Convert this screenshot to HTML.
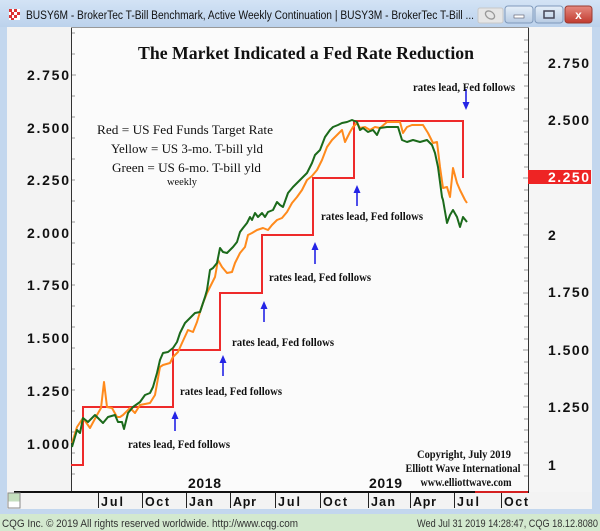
<!DOCTYPE html>
<html><head><meta charset="utf-8">
<style>
html,body{margin:0;padding:0;background:#c3d7ee;}
svg{display:block;}
.ax{font-family:"Liberation Sans",sans-serif;font-weight:bold;font-size:14px;fill:#111;}
.tm{font-family:"Liberation Sans",sans-serif;font-weight:bold;font-size:12.5px;fill:#111;}
.rl{font-family:"Liberation Serif",serif;font-weight:bold;font-size:11.5px;fill:#111;}
.lg{font-family:"Liberation Serif",serif;font-size:13px;fill:#111;}
</style></head>
<body>
<svg width="600" height="531" viewBox="0 0 600 531" xmlns="http://www.w3.org/2000/svg">
<defs>
<linearGradient id="tb" x1="0" y1="0" x2="0" y2="1">
<stop offset="0" stop-color="#d3e3f5"/><stop offset="1" stop-color="#bcd2ec"/></linearGradient>
<linearGradient id="bt" x1="0" y1="0" x2="0" y2="1">
<stop offset="0" stop-color="#e6eff9"/><stop offset="1" stop-color="#b7cbe3"/></linearGradient>
<linearGradient id="cl" x1="0" y1="0" x2="0" y2="1">
<stop offset="0" stop-color="#e58a80"/><stop offset="1" stop-color="#c13b2f"/></linearGradient>
</defs>
<!-- window frame -->
<rect x="0" y="0" width="600" height="531" fill="#c3d7ee"/>
<rect x="0" y="0" width="600" height="27" fill="url(#tb)"/>
<!-- title icon -->
<rect x="9" y="9" width="11" height="11" fill="#fff"/>
<rect x="9" y="9" width="3" height="3" fill="#d33"/><rect x="14" y="9" width="3" height="3" fill="#d33"/>
<rect x="11" y="12" width="3" height="3" fill="#d33"/><rect x="17" y="12" width="3" height="3" fill="#d33"/>
<rect x="9" y="15" width="3" height="3" fill="#d33"/><rect x="14" y="15" width="3" height="3" fill="#d33"/>
<rect x="11" y="18" width="3" height="2" fill="#d33"/>
<text x="26" y="19" font-family="Liberation Sans, sans-serif" font-size="11.5" fill="#111" textLength="448" lengthAdjust="spacingAndGlyphs">BUSY6M - BrokerTec T-Bill Benchmark, Active Weekly Continuation  |  BUSY3M - BrokerTec T-Bill ...</text>
<!-- buttons -->
<rect x="478" y="8" width="25" height="15" rx="2" fill="#e6e6e6" stroke="#c8c8c8"/>
<ellipse cx="490" cy="15" rx="5" ry="3.5" fill="none" stroke="#999" stroke-width="1.3" transform="rotate(35 490 15)"/>
<rect x="505" y="6" width="28" height="17" rx="3" fill="url(#bt)" stroke="#7f99bb"/>
<rect x="514" y="15" width="10" height="3" fill="#fff" stroke="#556" stroke-width="0.6"/>
<rect x="535" y="6" width="28" height="17" rx="3" fill="url(#bt)" stroke="#7f99bb"/>
<rect x="544" y="11" width="10" height="7" fill="none" stroke="#445" stroke-width="1.5"/>
<rect x="565" y="6" width="27" height="17" rx="3" fill="url(#cl)" stroke="#9a3a30"/>
<text x="578.5" y="19" text-anchor="middle" font-family="Liberation Sans, sans-serif" font-weight="bold" font-size="12" fill="#fff">x</text>

<!-- panels -->
<rect x="7" y="27" width="64" height="465" fill="#f3f3f3"/>
<rect x="71" y="27" width="458" height="465" fill="#fbfbfb"/>
<rect x="529" y="27" width="63" height="465" fill="#f5f5f5"/>
<line x1="71.5" y1="27" x2="71.5" y2="492" stroke="#333" stroke-width="1"/>
<line x1="528.5" y1="27" x2="528.5" y2="492" stroke="#333" stroke-width="1"/>
<line x1="71" y1="27.5" x2="529" y2="27.5" stroke="#999" stroke-width="1"/>

<!-- left ticks -->
<g stroke="#999" stroke-width="1">
<line x1="72" y1="33" x2="75" y2="33"/><line x1="72" y1="54" x2="75" y2="54"/><line x1="72" y1="75" x2="76" y2="75"/>
<line x1="72" y1="96" x2="75" y2="96"/><line x1="72" y1="117" x2="75" y2="117"/><line x1="72" y1="138" x2="75" y2="138"/>
<line x1="72" y1="159" x2="75" y2="159"/><line x1="72" y1="180" x2="75" y2="180"/><line x1="72" y1="201" x2="75" y2="201"/>
<line x1="72" y1="222" x2="75" y2="222"/><line x1="72" y1="243" x2="75" y2="243"/><line x1="72" y1="264" x2="75" y2="264"/>
<line x1="72" y1="285" x2="75" y2="285"/><line x1="72" y1="306" x2="75" y2="306"/><line x1="72" y1="327" x2="75" y2="327"/>
<line x1="72" y1="348" x2="75" y2="348"/><line x1="72" y1="369" x2="75" y2="369"/><line x1="72" y1="390" x2="75" y2="390"/>
<line x1="72" y1="411" x2="75" y2="411"/><line x1="72" y1="432" x2="75" y2="432"/><line x1="72" y1="453" x2="75" y2="453"/>
<line x1="72" y1="474" x2="75" y2="474"/>
</g>
<!-- right ticks -->
<g stroke="#999" stroke-width="1">
<line x1="524" y1="40" x2="528" y2="40"/><line x1="524" y1="52" x2="528" y2="52"/><line x1="523" y1="63" x2="528" y2="63"/>
<line x1="524" y1="75" x2="528" y2="75"/><line x1="524" y1="86" x2="528" y2="86"/><line x1="524" y1="98" x2="528" y2="98"/>
<line x1="524" y1="109" x2="528" y2="109"/><line x1="523" y1="121" x2="528" y2="121"/><line x1="524" y1="132" x2="528" y2="132"/>
<line x1="524" y1="144" x2="528" y2="144"/><line x1="524" y1="155" x2="528" y2="155"/><line x1="524" y1="167" x2="528" y2="167"/>
<line x1="523" y1="178" x2="528" y2="178"/><line x1="524" y1="190" x2="528" y2="190"/><line x1="524" y1="201" x2="528" y2="201"/>
<line x1="524" y1="213" x2="528" y2="213"/><line x1="524" y1="224" x2="528" y2="224"/><line x1="523" y1="235" x2="528" y2="235"/>
<line x1="524" y1="247" x2="528" y2="247"/><line x1="524" y1="258" x2="528" y2="258"/><line x1="524" y1="270" x2="528" y2="270"/>
<line x1="524" y1="281" x2="528" y2="281"/><line x1="523" y1="293" x2="528" y2="293"/><line x1="524" y1="304" x2="528" y2="304"/>
<line x1="524" y1="316" x2="528" y2="316"/><line x1="524" y1="327" x2="528" y2="327"/><line x1="524" y1="339" x2="528" y2="339"/>
<line x1="523" y1="350" x2="528" y2="350"/><line x1="524" y1="362" x2="528" y2="362"/><line x1="524" y1="373" x2="528" y2="373"/>
<line x1="524" y1="384" x2="528" y2="384"/><line x1="524" y1="396" x2="528" y2="396"/><line x1="523" y1="407" x2="528" y2="407"/>
<line x1="524" y1="419" x2="528" y2="419"/><line x1="524" y1="430" x2="528" y2="430"/><line x1="524" y1="442" x2="528" y2="442"/>
<line x1="524" y1="453" x2="528" y2="453"/><line x1="523" y1="465" x2="528" y2="465"/><line x1="524" y1="476" x2="528" y2="476"/>
</g>

<!-- left axis labels -->
<g class="ax">
<text x="27" y="80" textLength="42" lengthAdjust="spacing">2.750</text>
<text x="27" y="133" textLength="42" lengthAdjust="spacing">2.500</text>
<text x="27" y="185" textLength="42" lengthAdjust="spacing">2.250</text>
<text x="27" y="238" textLength="42" lengthAdjust="spacing">2.000</text>
<text x="27" y="290" textLength="42" lengthAdjust="spacing">1.750</text>
<text x="27" y="343" textLength="42" lengthAdjust="spacing">1.500</text>
<text x="27" y="396" textLength="42" lengthAdjust="spacing">1.250</text>
<text x="27" y="449" textLength="42" lengthAdjust="spacing">1.000</text>
</g>
<!-- right axis labels -->
<rect x="528" y="170" width="63" height="14" fill="#ee2424"/>
<g class="ax">
<text x="548" y="68" textLength="41" lengthAdjust="spacing">2.750</text>
<text x="548" y="125" textLength="41" lengthAdjust="spacing">2.500</text>
<text x="548" y="182" textLength="41" lengthAdjust="spacing" fill="#fff" style="fill:#fff">2.250</text>
<text x="548" y="240">2</text>
<text x="548" y="297" textLength="41" lengthAdjust="spacing">1.750</text>
<text x="548" y="355" textLength="41" lengthAdjust="spacing">1.500</text>
<text x="548" y="412" textLength="41" lengthAdjust="spacing">1.250</text>
<text x="548" y="470">1</text>
</g>

<!-- title -->
<text x="138" y="59" font-family="Liberation Serif, serif" font-weight="bold" font-size="17.5" fill="#111" textLength="336" lengthAdjust="spacingAndGlyphs">The Market Indicated a Fed Rate Reduction</text>

<!-- legend -->
<text class="lg" x="97" y="134" textLength="176" lengthAdjust="spacingAndGlyphs">Red = US Fed Funds Target Rate</text>
<text class="lg" x="111" y="153" textLength="152" lengthAdjust="spacingAndGlyphs">Yellow = US 3-mo. T-bill yld</text>
<text class="lg" x="112" y="172" textLength="149" lengthAdjust="spacingAndGlyphs">Green = US 6-mo. T-bill yld</text>
<text x="167" y="185" font-family="Liberation Serif, serif" font-size="10" fill="#111" textLength="30" lengthAdjust="spacingAndGlyphs">weekly</text>

<!-- series -->
<polyline fill="none" stroke="#ee2a2a" stroke-width="2" points="71,465 83,465 83,407 173,407 173,350 220,350 220,293 262,293 262,235 313,235 313,178 354,178 354,121 463,121 463,178"/>
<polyline fill="none" stroke="#ff8a1c" stroke-width="2" stroke-linejoin="round" points="72,443 77,427 83,418 90,428 97,415 101,408 104,382 107,407 112,408 117,417 120,417 123,415 130,408 135,413 140,405 150,403 155,395 160,367 163,365 170,363 173,357 178,352 182,343 188,330 193,332 197,322 200,312 203,303 207,293 212,283 215,277 218,260 222,267 227,273 232,272 235,263 240,253 245,247 248,235 252,233 257,230 263,228 268,230 272,225 277,220 282,218 287,212 292,203 297,197 302,190 307,180 312,176 317,170 322,160 327,147 332,140 337,135 342,130 345,142 350,132 353,127 357,123 360,128 365,127 370,130 375,127 380,128 387,122 393,122 400,122 403,133 407,127 412,125 417,125 423,125 428,133 433,143 437,142 440,167 443,188 447,187 450,197 453,168 457,183 460,190 465,200 467,203"/>
<polyline fill="none" stroke="#1b6a1b" stroke-width="2" stroke-linejoin="round" points="72,447 77,430 80,433 83,418 88,422 95,415 103,423 108,417 115,415 118,422 122,422 124,429 128,413 133,407 140,402 145,395 150,393 153,387 157,373 160,360 163,353 168,352 173,348 177,342 180,333 185,323 190,318 195,313 200,312 205,297 207,290 210,270 213,268 217,263 220,248 223,252 227,253 230,250 233,247 237,242 240,232 243,228 247,223 250,217 252,220 255,213 258,217 262,213 265,217 268,212 273,210 277,202 280,205 283,207 288,193 293,187 300,180 307,173 312,163 315,155 320,150 325,137 330,130 333,127 338,125 342,123 347,122 352,120 357,122 360,130 363,128 368,132 373,130 377,135 380,128 387,127 393,127 398,127 402,140 407,142 413,140 420,142 427,140 432,145 435,153 438,167 442,197 443,200 447,223 450,215 453,210 457,217 460,227 463,217 467,222"/>

<!-- arrows -->
<g stroke="#2424e6" stroke-width="1.6" fill="#2424e6">
<line x1="175" y1="418" x2="175" y2="431"/><polygon points="171.5,419 178.5,419 175,411" stroke="none"/>
<line x1="223" y1="362" x2="223" y2="376"/><polygon points="219.5,363 226.5,363 223,355" stroke="none"/>
<line x1="264" y1="308" x2="264" y2="322"/><polygon points="260.5,309 267.5,309 264,301" stroke="none"/>
<line x1="315" y1="249" x2="315" y2="264"/><polygon points="311.5,250 318.5,250 315,242" stroke="none"/>
<line x1="357" y1="192" x2="357" y2="206"/><polygon points="353.5,193 360.5,193 357,185" stroke="none"/>
<line x1="466" y1="89" x2="466" y2="103"/><polygon points="462.5,102 469.5,102 466,110" stroke="none"/>
</g>

<!-- annotations -->
<g class="rl">
<text x="128" y="448" textLength="102" lengthAdjust="spacingAndGlyphs">rates lead, Fed follows</text>
<text x="180" y="395" textLength="102" lengthAdjust="spacingAndGlyphs">rates lead, Fed follows</text>
<text x="232" y="346" textLength="102" lengthAdjust="spacingAndGlyphs">rates lead, Fed follows</text>
<text x="269" y="281" textLength="102" lengthAdjust="spacingAndGlyphs">rates lead, Fed follows</text>
<text x="321" y="220" textLength="102" lengthAdjust="spacingAndGlyphs">rates lead, Fed follows</text>
<text x="413" y="91" textLength="102" lengthAdjust="spacingAndGlyphs">rates lead, Fed follows</text>
</g>
<g class="rl" text-anchor="middle">
<text x="464" y="458" textLength="94" lengthAdjust="spacingAndGlyphs">Copyright, July 2019</text>
<text x="463" y="472" textLength="115" lengthAdjust="spacingAndGlyphs">Elliott Wave International</text>
<text x="466" y="486" textLength="91" lengthAdjust="spacingAndGlyphs">www.elliottwave.com</text>
</g>

<!-- years -->
<text x="188" y="488" font-family="Liberation Sans, sans-serif" font-weight="bold" font-size="14" fill="#111" textLength="33" lengthAdjust="spacing">2018</text>
<text x="369" y="488" font-family="Liberation Sans, sans-serif" font-weight="bold" font-size="14" fill="#111" textLength="33" lengthAdjust="spacing">2019</text>

<!-- time axis -->
<rect x="7" y="492" width="585" height="17" fill="#f3f3f3"/>
<line x1="14" y1="492" x2="529" y2="492" stroke="#111" stroke-width="2"/>
<line x1="475" y1="492" x2="528" y2="492" stroke="#d42020" stroke-width="2"/>
<rect x="8" y="493" width="12" height="15" fill="#fff" stroke="#8a8a8a"/>
<rect x="8.5" y="493.5" width="11" height="8" fill="#c5dfbf"/>
<g stroke="#222" stroke-width="1">
<line x1="98.5" y1="493" x2="98.5" y2="508"/><line x1="142.5" y1="493" x2="142.5" y2="508"/>
<line x1="186.5" y1="493" x2="186.5" y2="508"/><line x1="230.5" y1="493" x2="230.5" y2="508"/>
<line x1="275.5" y1="493" x2="275.5" y2="508"/><line x1="320.5" y1="493" x2="320.5" y2="508"/>
<line x1="368.5" y1="493" x2="368.5" y2="508"/><line x1="410.5" y1="493" x2="410.5" y2="508"/>
<line x1="454.5" y1="493" x2="454.5" y2="508"/><line x1="501.5" y1="493" x2="501.5" y2="508"/>
</g>
<g class="tm">
<text x="101" y="506" textLength="22" lengthAdjust="spacing">Jul</text>
<text x="145" y="506" textLength="24" lengthAdjust="spacing">Oct</text>
<text x="189" y="506" textLength="24" lengthAdjust="spacing">Jan</text>
<text x="233" y="506" textLength="23" lengthAdjust="spacing">Apr</text>
<text x="278" y="506" textLength="22" lengthAdjust="spacing">Jul</text>
<text x="323" y="506" textLength="24" lengthAdjust="spacing">Oct</text>
<text x="371" y="506" textLength="24" lengthAdjust="spacing">Jan</text>
<text x="413" y="506" textLength="23" lengthAdjust="spacing">Apr</text>
<text x="457" y="506" textLength="22" lengthAdjust="spacing">Jul</text>
<text x="504" y="506" textLength="24" lengthAdjust="spacing">Oct</text>
</g>

<!-- status bar -->
<rect x="0" y="514" width="600" height="17" fill="#d3e9cf"/>
<text x="2" y="527" font-family="Liberation Sans, sans-serif" font-size="11" fill="#333" textLength="296" lengthAdjust="spacingAndGlyphs">CQG Inc. © 2019 All rights reserved worldwide. http://www.cqg.com</text>
<text x="417" y="527" font-family="Liberation Sans, sans-serif" font-size="11" fill="#333" textLength="181" lengthAdjust="spacingAndGlyphs">Wed Jul 31 2019 14:28:47, CQG 18.12.8080</text>
</svg>
</body></html>
